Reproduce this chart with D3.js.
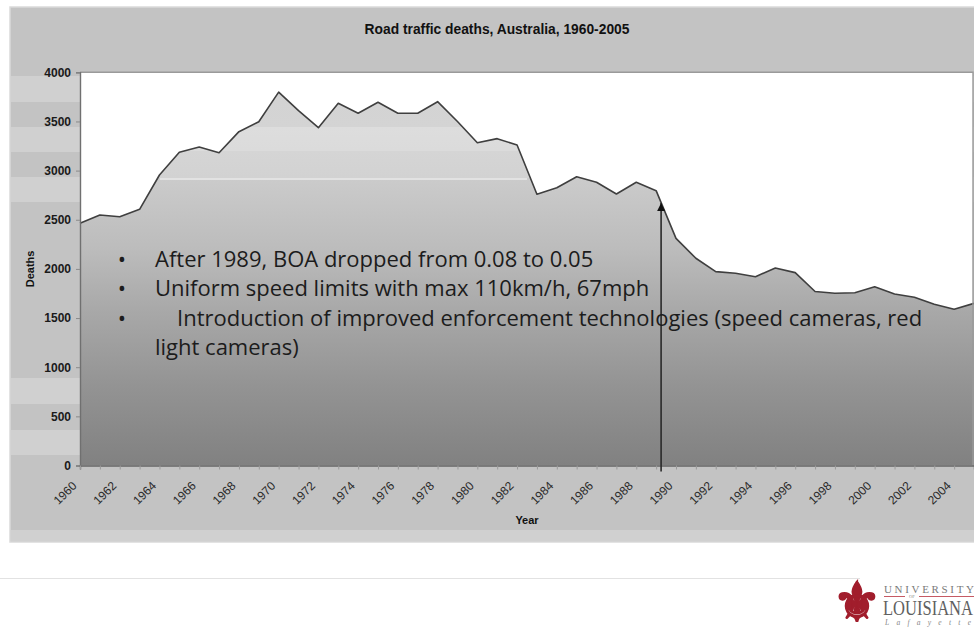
<!DOCTYPE html>
<html>
<head>
<meta charset="utf-8">
<script src="https://cdn.jsdelivr.net/npm/d3@7"></script>
<style>
  html, body { margin: 0; padding: 0; background: #ffffff; }
  svg { display: block; }
</style>
</head>
<body>
<svg id="chart" width="974" height="627"></svg>
<script>
// ---------- data ----------
const years = [1960,1961,1962,1963,1964,1965,1966,1967,1968,1969,
               1970,1971,1972,1973,1974,1975,1976,1977,1978,1979,
               1980,1981,1982,1983,1984,1985,1986,1987,1988,1989,
               1990,1991,1992,1993,1994,1995,1996,1997,1998,1999,
               2000,2001,2002,2003,2004,2005];
const deaths = [2464,2548,2531,2606,2955,3186,3240,3182,3396,3497,
                3798,3610,3437,3685,3583,3695,3583,3583,3701,3500,
                3284,3325,3260,2759,2826,2938,2881,2762,2881,2796,
                2311,2108,1972,1955,1921,2009,1962,1770,1752,1758,
                1819,1745,1711,1640,1589,1650];
const yTicks = [0,500,1000,1500,2000,2500,3000,3500,4000];
const xLabelYears = [1960,1962,1964,1966,1968,1970,1972,1974,1976,1978,1980,1982,
                     1984,1986,1988,1990,1992,1994,1996,1998,2000,2002,2004];
const title = "Road traffic deaths, Australia, 1960-2005";
const xTitle = "Year";
const yTitle = "Deaths";
const bullets = [
  {bullet: true,  indent: false, text: "After 1989, BOA dropped from 0.08 to 0.05"},
  {bullet: true,  indent: false, text: "Uniform speed limits with max 110km/h, 67mph"},
  {bullet: true,  indent: true,  text: "Introduction of improved enforcement technologies (speed cameras, red"},
  {bullet: false, indent: false, text: "light cameras)"}
];
const arrowYear = 1989.25;
const arrowTipValue = 2670;

// ---------- layout ----------
const svg = d3.select("#chart");
const plot = {left: 80, right: 974, top: 72.3, bottom: 465.5};
const panel = {x: 10, y: 7, w: 966, h: 535};

const x = d3.scaleLinear().domain([years[0], years[years.length-1]]).range([plot.left, plot.right]);
const y = d3.scaleLinear().domain([0, 4000]).range([plot.bottom, plot.top]);

const defs = svg.append("defs");
const grad = defs.append("linearGradient").attr("id","areaGrad")
  .attr("gradientUnits","userSpaceOnUse").attr("x1",0).attr("x2",0)
  .attr("y1",plot.top).attr("y2",plot.bottom);
[[0,"#d2d2d2"],[0.14,"#d4d4d4"],[0.14,"#dddddd"],[0.20,"#dbdbdb"],[0.20,"#d5d5d5"],
 [0.27,"#d2d2d2"],[0.27,"#cbcbcb"],[0.45,"#bcbcbc"],[0.60,"#a9a9a9"],[0.80,"#939393"],[1,"#818181"]]
  .forEach(s => grad.append("stop").attr("offset",s[0]).attr("stop-color",s[1]));

defs.append("marker").attr("id","arrowHead")
  .attr("viewBox","0 0 10 10").attr("refX",10).attr("refY",5)
  .attr("markerWidth",8).attr("markerHeight",9).attr("markerUnits","userSpaceOnUse")
  .attr("orient","auto")
  .append("path").attr("d","M0,0 L10,5 L0,10 Z").attr("fill","#111");

// chart panel
svg.append("rect").attr("x",panel.x).attr("y",panel.y).attr("width",panel.w).attr("height",panel.h)
  .attr("fill","#c3c3c3").attr("stroke","#dadada").attr("stroke-width",1.5);

// light banding on panel margins
const bandsY = [[76,102],[127,152],[177,202],[378,404],[430,455],[530,541]];
svg.append("g").selectAll("rect").data(bandsY).join("rect")
  .attr("x",panel.x+1).attr("width",panel.w-1).attr("y",d=>d[0]).attr("height",d=>d[1]-d[0])
  .attr("fill","#ffffff").attr("opacity",0.22);

// plot background
svg.append("rect").attr("x",plot.left).attr("y",plot.top)
  .attr("width",plot.right-plot.left-1).attr("height",plot.bottom-plot.top)
  .attr("fill","#ffffff");

// area + line
const area = d3.area().x((d,i)=>x(years[i])).y0(y(0)).y1(d=>y(d));
const line = d3.line().x((d,i)=>x(years[i])).y(d=>y(d));
svg.append("path").datum(deaths).attr("d",area).attr("fill","url(#areaGrad)");

svg.append("line").attr("x1",160).attr("x2",527).attr("y1",179).attr("y2",179)
  .attr("stroke","#ffffff").attr("stroke-width",1.5).attr("opacity",0.6);

svg.append("path").datum(deaths).attr("d",line)
  .attr("fill","none").attr("stroke","#3f3f3f").attr("stroke-width",1.6).attr("stroke-linejoin","round");

// plot border top/right
svg.append("path").attr("d",`M${plot.left},${plot.top}H${plot.right-1}V${plot.bottom}`)
  .attr("fill","none").attr("stroke","#9a9a9a").attr("stroke-width",1.4);

// axes
const yAxis = d3.axisLeft(y).tickValues(yTicks).tickSize(4).tickPadding(5).tickFormat(d3.format("d"));
const gy = svg.append("g").attr("transform",`translate(${plot.left},0)`).call(yAxis);
gy.select(".domain").attr("stroke","#707070").attr("stroke-width",1.4);
gy.selectAll(".tick line").attr("stroke","#8a8a8a");
gy.selectAll(".tick text").attr("font-family","'Liberation Sans', Arial, sans-serif")
  .attr("font-weight","bold").attr("font-size",12).attr("fill","#1a1a1a");

const xAxis = d3.axisBottom(x).tickValues(years).tickSize(4)
  .tickFormat(d => xLabelYears.includes(d) ? String(d) : "");
const gx = svg.append("g").attr("transform",`translate(0,${plot.bottom})`).call(xAxis);
gx.select(".domain").attr("stroke","#666").attr("stroke-width",1.4);
gx.selectAll(".tick line").attr("stroke","#9a9a9a");
gx.selectAll(".tick text").attr("font-family","'Liberation Sans', Arial, sans-serif")
  .attr("font-size",12).attr("fill","#2a2a2a")
  .attr("text-anchor","end").attr("y",0).attr("dy","0.35em")
  .attr("transform","translate(-6,18) rotate(-45)");

// axis titles
svg.append("text").attr("x",(plot.left+plot.right)/2).attr("y",524)
  .attr("text-anchor","middle").attr("font-family","'Liberation Sans', Arial, sans-serif")
  .attr("font-weight","bold").attr("font-size",11).attr("fill","#111").text(xTitle);
svg.append("text").attr("transform",`translate(34,${(plot.top+plot.bottom)/2}) rotate(-90)`)
  .attr("text-anchor","middle").attr("font-family","'Liberation Sans', Arial, sans-serif")
  .attr("font-weight","bold").attr("font-size",11).attr("fill","#111").text(yTitle);

// chart title
svg.append("text").attr("x",497).attr("y",33.5).attr("text-anchor","middle")
  .attr("font-family","'Liberation Sans', Arial, sans-serif").attr("font-weight","bold")
  .attr("font-size",13.8).attr("fill","#111").text(title);

// arrow annotation
svg.append("line").attr("x1",x(arrowYear)).attr("x2",x(arrowYear))
  .attr("y1",plot.bottom+6).attr("y2",y(arrowTipValue))
  .attr("stroke","#2a2a2a").attr("stroke-width",1.6).attr("marker-end","url(#arrowHead)");

// bullet text block
const tb = svg.append("g").attr("font-family","'Open Sans', 'Noto Sans', sans-serif")
  .attr("font-size",22).attr("fill","#1c1c1c");
bullets.forEach((b,i) => {
  const by = 266.7 + i*29.5;
  if (b.bullet) tb.append("text").attr("x",122).attr("y",by).attr("text-anchor","middle").attr("font-size",22).text("•");
  tb.append("text").attr("x", b.indent ? 177 : 155).attr("y",by).text(b.text);
});

// footer rule
svg.append("line").attr("x1",0).attr("x2",860).attr("y1",578.5).attr("y2",578.5)
  .attr("stroke","#e2e2e2").attr("stroke-width",1.2);

// logo
const logo = svg.append("g");
logo.append("text").attr("x",857).attr("y",621).attr("text-anchor","middle")
  .attr("font-family","'DejaVu Sans', sans-serif").attr("font-size",54)
  .attr("fill","#a11d2c").attr("stroke","#a11d2c").attr("stroke-width",2.2).text("\u269C");
logo.append("text").attr("x",884).attr("y",593).attr("font-family","'Liberation Serif', serif")
  .attr("font-size",11).attr("textLength",90).attr("lengthAdjust","spacing").attr("fill","#7a7a7a").text("UNIVERSITY");
logo.append("line").attr("x1",884).attr("x2",905).attr("y1",596.5).attr("y2",596.5).attr("stroke","#b8303c").attr("stroke-width",0.8);
logo.append("line").attr("x1",919).attr("x2",974).attr("y1",596.5).attr("y2",596.5).attr("stroke","#b8303c").attr("stroke-width",0.8);
logo.append("text").attr("x",912).attr("y",598).attr("text-anchor","middle").attr("font-family","'Liberation Serif', serif")
  .attr("font-size",4.5).attr("fill","#888").text("OF");
logo.append("text").attr("x",883).attr("y",615).attr("font-family","'Liberation Serif', serif")
  .attr("font-size",21).attr("textLength",90).attr("lengthAdjust","spacingAndGlyphs").attr("fill","#606060").text("LOUISIANA");
logo.append("text").attr("x",885).attr("y",625).attr("font-family","'Liberation Serif', serif")
  .attr("font-style","italic").attr("font-size",7.5).attr("textLength",86).attr("lengthAdjust","spacing").attr("fill","#888").text("Lafayette");
</script>
</body>
</html>
